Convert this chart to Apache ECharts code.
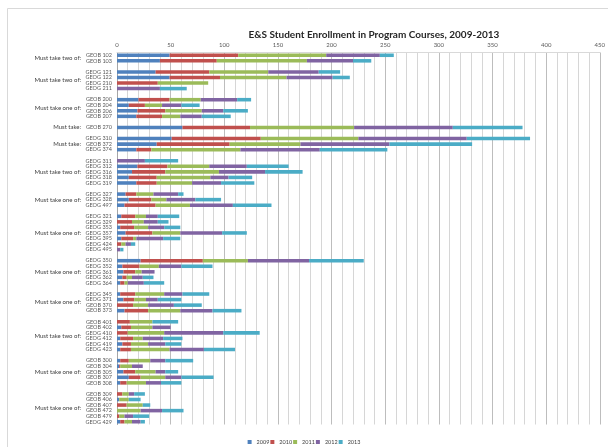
<!DOCTYPE html>
<html>
<head>
<meta charset="utf-8">
<script src="https://cdn.jsdelivr.net/npm/echarts@6/dist/echarts.min.js"></script>
<style>
  html, body { margin: 0; padding: 0; background: #ffffff; }
  #chart { width: 608px; height: 447px; }
</style>
</head>
<body>
<div id="chart"></div>
<script>
// Requirement groups, in display order, and how many courses each holds
const groupTitles = [
  'Must take two of:', 'Must take two of:', 'Must take one of:', 'Must take:',
  'Must take:', 'Must take two of:', 'Must take one of:', 'Must take one of:',
  'Must take one of:', 'Must take one of:', 'Must take two of:', 'Must take one of:',
  'Must take one of:'
];
const groupSizes = [2, 4, 4, 1, 3, 5, 3, 7, 5, 4, 6, 5, 6];

const courses = [
  'GEOB 102', 'GEOB 103',
  'GEOG 121', 'GEOG 122', 'GEOG 210', 'GEOG 211',
  'GEOB 200', 'GEOB 204', 'GEOB 206', 'GEOB 207',
  'GEOB 270',
  'GEOG 310', 'GEOB 372', 'GEOG 374',
  'GEOG 311', 'GEOG 312', 'GEOG 316', 'GEOG 318', 'GEOG 319',
  'GEOG 327', 'GEOG 328', 'GEOG 497',
  'GEOG 321', 'GEOG 329', 'GEOG 353', 'GEOG 357', 'GEOG 395', 'GEOG 424', 'GEOG 495',
  'GEOG 350', 'GEOG 352', 'GEOG 361', 'GEOG 362', 'GEOG 364',
  'GEOG 345', 'GEOG 371', 'GEOB 370', 'GEOB 373',
  'GEOB 401', 'GEOB 402', 'GEOG 410', 'GEOG 412', 'GEOG 419', 'GEOG 423',
  'GEOB 300', 'GEOB 304', 'GEOB 305', 'GEOB 307', 'GEOB 308',
  'GEOB 309', 'GEOB 406', 'GEOB 407', 'GEOB 472', 'GEOB 479', 'GEOG 429'
];

const years = ['2009', '2010', '2011', '2012', '2013'];

// Enrollment per course and year (same order as courses)
const enr2009 = [49, 40, 36, 49, 0, 0, 20, 11, 19, 18, 61, 51, 37, 18, 0, 19, 14, 11, 18, 8, 11, 7,
  4, 0, 3, 8, 4, 0, 0, 22, 5, 6, 5, 3, 3, 6, 0, 7, 0, 4, 0, 3, 5, 3, 3, 2, 6, 11, 3, 0, 2, 0, 0, 0, 3];
const enr2010 = [64, 53, 50, 47, 38, 0, 29, 15, 26, 24, 63, 83, 68, 14, 0, 28, 31, 26, 19, 10, 21, 29,
  13, 14, 13, 25, 11, 4, 0, 58, 16, 11, 4, 4, 14, 10, 15, 22, 12, 9, 10, 12, 8, 10, 8, 1, 11, 11, 6, 5, 0, 9, 0, 2, 4];
const enr2011 = [82, 84, 55, 62, 47, 0, 29, 16, 34, 17, 97, 91, 66, 83, 0, 39, 50, 50, 33, 16, 14, 32,
  10, 11, 13, 26, 3, 4, 0, 42, 18, 6, 5, 3, 27, 11, 14, 30, 21, 20, 34, 9, 16, 36, 20, 11, 19, 23, 18, 6, 9, 15, 22, 5, 7];
const enr2012 = [50, 43, 47, 43, 0, 40, 34, 18, 20, 20, 92, 101, 83, 74, 26, 35, 43, 17, 27, 23, 27, 40,
  11, 13, 15, 39, 25, 5, 3, 57, 21, 12, 10, 15, 17, 11, 24, 30, 0, 17, 55, 19, 16, 32, 14, 10, 9, 15, 14, 5, 0, 0, 20, 8, 8];
const enr2013 = [13, 17, 20, 16, 0, 25, 13, 17, 23, 27, 65, 59, 77, 63, 31, 39, 35, 22, 31, 5, 24, 36,
  20, 10, 15, 23, 16, 4, 3, 51, 29, 0, 10, 19, 25, 22, 26, 27, 24, 0, 34, 18, 15, 29, 26, 0, 12, 30, 19, 10, 11, 7, 20, 15, 4];

const yearValues = [enr2009, enr2010, enr2011, enr2012, enr2013];
const yearColors = ['#4F81BD', '#C0504D', '#9BBB59', '#8064A2', '#4BACC6'];

// Build the row list: courses with an empty spacer row between groups
const rows = [];
const rowOfCourse = [];
const groupRanges = [];
let ci = 0;
groupSizes.forEach(function (size, gi) {
  if (gi > 0) rows.push('');
  const first = rows.length;
  for (let k = 0; k < size; k++) {
    rowOfCourse.push(rows.length);
    rows.push(courses[ci++]);
  }
  groupRanges.push([first, rows.length - 1]);
});

function rowData(values) {
  const out = rows.map(function () { return null; });
  values.forEach(function (v, i) { out[rowOfCourse[i]] = v; });
  return out;
}

const FONT = 'Lato, "Open Sans", sans-serif';

const chart = echarts.init(document.getElementById('chart'), null, { renderer: 'canvas' });

const option = {
  backgroundColor: '#ffffff',
  animation: false,
  textStyle: { fontFamily: FONT },
  title: {
    text: 'E&S Student Enrollment in Program Courses, 2009-2013',
    left: 369,
    top: 25,
    textAlign: 'center',
    textStyle: { fontFamily: FONT, fontSize: 10, fontWeight: 'bold', color: '#262626' }
  },
  legend: {
    data: years,
    left: 'center',
    top: 434,
    icon: 'rect',
    itemWidth: 4,
    itemHeight: 4,
    itemGap: 1,
    textStyle: { fontFamily: FONT, fontSize: 5.5, color: '#404040' }
  },
  grid: { left: 117, right: 5, top: 52.5, bottom: 22.5, containLabel: false },
  xAxis: {
    type: 'value',
    position: 'top',
    min: 0,
    max: 450,
    interval: 50,
    axisLine: { show: true, lineStyle: { color: '#d9d9d9', width: 1 } },
    axisTick: { show: false },
    minorTick: { show: false, splitNumber: 5 },
    axisLabel: { fontFamily: FONT, fontSize: 6, color: '#595959', margin: 4 },
    splitLine: { show: true, lineStyle: { color: '#bdbdbd', width: 1 } },
    minorSplitLine: { show: true, lineStyle: { color: '#d6d6d6', width: 1 } }
  },
  yAxis: {
    type: 'category',
    inverse: true,
    data: rows,
    axisLine: { show: true, lineStyle: { color: '#a6a6a6', width: 1 } },
    axisTick: { show: false },
    axisLabel: { interval: 0, fontFamily: FONT, fontSize: 5.5, color: '#595959', margin: 5 },
    splitLine: { show: false }
  },
  series: years.map(function (y, i) {
    return {
      name: y,
      type: 'bar',
      stack: 'enrollment',
      data: rowData(yearValues[i]),
      barCategoryGap: '36%',
      itemStyle: { color: yearColors[i] },
      silent: true
    };
  })
};

chart.setOption(option);

// Group captions, vertically centred on each group's rows
const captions = groupRanges.map(function (r, gi) {
  const y0 = chart.convertToPixel({ yAxisIndex: 0 }, r[0]);
  const y1 = chart.convertToPixel({ yAxisIndex: 0 }, r[1]);
  return {
    type: 'text',
    x: 81,
    y: (y0 + y1) / 2,
    silent: true,
    style: {
      text: groupTitles[gi],
      fontFamily: FONT,
      fontSize: 6,
      fill: '#404040',
      align: 'right',
      verticalAlign: 'middle'
    }
  };
});

chart.setOption({
  graphic: [
    {
      type: 'rect',
      silent: true,
      shape: { x: 7.5, y: 8.5, width: 640, height: 480 },
      style: { fill: 'none', stroke: '#d9d9d9', lineWidth: 1 }
    }
  ].concat(captions)
});
</script>
</body>
</html>
